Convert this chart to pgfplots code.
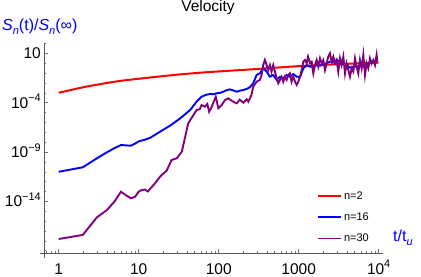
\documentclass[border=0pt]{standalone}
\usepackage{fontspec}
\setmainfont{Liberation Sans}
\usepackage{pgfplots}
\pgfplotsset{compat=1.18}
\newcommand{\sups}[1]{\raisebox{0.42em}{\fontsize{11bp}{13bp}\selectfont #1}}
\newcommand{\subs}[1]{\raisebox{-0.25em}{\fontsize{11bp}{13bp}\selectfont #1}}
\definecolor{mpurple}{rgb}{0.5,0,0.5}
\begin{document}
\begin{tikzpicture}
\begin{axis}[
  at={(0,0)}, anchor=south west,
  scale only axis, width=339bp, height=210bp,
  xmode=log, ymode=log,
  xmin=0.655, xmax=11320,
  ymin=5.9e-20, ymax=110,
  axis lines=left,
  axis line style={-, black!65, line width=0.6bp},
  x axis line style={shorten <=-4bp},
  y axis line style={shorten <=-5bp},
  tick align=inside,
  major tick length=4bp, minor tick length=2.5bp,
  tick style={black!55, line width=0.5bp},
  xtick={1,10,100,1000,10000},
  xticklabels={1,10,100,1000,10\sups{4}},
  minor xtick={0.7,0.8,0.9,2,3,4,5,6,7,8,9,20,30,40,50,60,70,80,90,200,300,400,500,600,700,800,900,2000,3000,4000,5000,6000,7000,8000,9000},
  ytick={1e-14,1e-9,1e-4,10},
  yticklabels={10\sups{−14},10\sups{−9},10\sups{−4},10},
  minor ytick={1e-19,1e-18,1e-17,1e-16,1e-15,1e-13,1e-12,1e-11,1e-10,1e-8,1e-7,1e-6,1e-5,1e-3,1e-2,1e-1,1,100},
  every tick label/.append style={font=\fontsize{15.5bp}{18bp}\selectfont},
  xticklabel style={anchor=north, text height=11bp, text depth=0pt, inner sep=0pt, yshift=-10bp},
  yticklabel style={anchor=east, text height=11bp, text depth=0pt, inner sep=0pt, xshift=-3bp},
  legend style={at={(rel axis cs:0.805,0.303)}, anchor=north west, draw=none, fill=none,
    font=\fontsize{11bp}{13bp}\selectfont, row sep=8bp, inner sep=0pt},
  legend cell align=left,
  legend image code/.code={\draw[#1] (0bp,0bp) -- (23bp,0bp);},
  clip=false,
]
\addplot[red, line width=2bp, smooth] coordinates {
(1,1e-3) (2,3.55e-3) (3.16,7.08e-3) (5.6,1.51e-2) (10,2.63e-2) (17.8,4.37e-2)
(31.6,7.08e-2) (56,1.05e-1) (100,1.45e-1) (316,2.63e-1) (1000,0.5) (3162,0.79) (10000,1.12)
};
\addlegendentry{n=2}
\addplot[blue, line width=1.9bp] coordinates {
(1,1e-11) (2,2.82e-11) (3,2.29e-10) (4,9.33e-10) (5,2.51e-9) (6,5.13e-9) (7,4.68e-9)
(8,4.37e-9) (9,7.08e-9) (10,1.2e-8) (12,1.78e-8) (14,2.82e-8) (18.5,1.15e-7) (24.7,4.68e-7)
(33,2.57e-6) (44,1.82e-5) (53,1.26e-4) (61,3.98e-4) (70,6.31e-4) (78,7.59e-4) (86,7.08e-4)
(94,8.91e-4) (105,1e-3) (114,1.29e-3) (125,1.78e-3) (138,2.24e-3) (150,1.78e-3) (168,1.29e-3)
(183,1.62e-3) (203,1.91e-3) (225,2.51e-3) (245,3.63e-3) (270,9.12e-3) (298,6.31e-2)
(327,9.33e-2) (360,0.302) (398,0.138) (437,4.27e-2) (481,6.31e-2) (530,2.0e-2) (583,4.27e-2)
(642,2.95e-2) (707,6.31e-2) (778,4.27e-2) (856,7.94e-2) (944,4.27e-2) (1039,3.98e-2)
(1143,0.302) (1259,0.646) (1386,0.437) (1522,0.437) (1679,0.646) (1846,0.55) (2030,0.776)
(2239,0.977) (2461,1.41) (2707,1.23) (2985,2.09) (3281,1.41) (3610,0.977) (3981,0.646)
(4375,0.347) (4814,0.437) (5309,0.437) (5834,0.55) (6420,0.437) (7079,0.646) (7780,0.977)
(8560,1.41) (9441,1.66)
};
\addlegendentry{n=16}
\addplot[mpurple, line width=1.9bp] coordinates {
(1,1.55e-18) (2,3.98e-18) (3,2.4e-16) (4,1.32e-15) (5,1e-14) (6,9.55e-14) (7,3.98e-14)
(8,2.04e-14) (9,2.95e-14) (10,9.55e-14) (11,1.41e-13) (12,1.58e-13) (13,1e-13) (14,2.0e-13)
(16,6.76e-13) (18.5,3.16e-12) (19.4,4.68e-12) (22.3,1.26e-11) (25.8,1.55e-10) (29.9,2.29e-10)
(34.6,1.07e-9) (38,3.16e-8) (41.6,8.13e-7) (48.4,5.62e-6) (53,1.82e-5) (58,2.14e-5)
(61,5.75e-5) (67,3.89e-5) (72,7.24e-5) (76,1.2e-5) (82,3.89e-5) (85,8.51e-5) (92,3.98e-4)
(99,2.69e-5) (109,5.75e-5) (120,1.86e-4) (132,2.75e-4) (145,1.58e-4) (160,1e-4) (168,8.51e-5)
(183,2.0e-4) (203,1e-4) (224,2.19e-4) (235,1.26e-4) (257,6.03e-4) (270,4.17e-3) (298,1.32e-2)
(327,2.0e-2) (344,6.31e-2) (360,0.646) (378,2.09) (398,0.646) (416,0.204) (437,0.646)
(457,0.138) (481,0.646) (530,2.95e-2) (555,9.12e-3) (583,2.0e-2) (612,4.27e-2) (642,1.32e-2)
(673,4.27e-2) (707,2.0e-2) (741,6.31e-2) (778,9.33e-2) (815,1.32e-2) (856,4.27e-2)
(900,1.32e-2) (944,6.17e-3) (990,1.32e-2) (1039,4.27e-2) (1090,0.204) (1143,1.41) (1200,2.09)
(1259,0.977) (1310,4.57) (1386,1) (1452,1.41) (1524,9.33e-2) (1599,0.646) (1675,2.09)
(1758,0.447) (1845,3.09) (1936,0.955) (2032,2.09) (2132,0.204) (2234,0.955) (2344,4.57)
(2460,10) (2582,1.41) (2710,4.57) (2844,0.955) (2979,2.09) (3126,0.138) (3281,3.09)
(3443,0.646) (3614,4.57) (3793,9.33e-2) (3972,0.955) (4169,0.204) (4375,4.27e-2) (4592,0.302)
(4819,0.138) (5058,3.09) (5297,0.447) (5559,9.33e-2) (5834,2.09) (6124,0.302) (6427,6.76)
(6745,6.31e-2) (7063,0.955) (7413,0.302) (7780,3.09) (8166,0.955) (8570,2.09) (8995,0.646)
(9419,6.76) (9616,1.41)
};
\addlegendentry{n=30}
\node[anchor=base, inner sep=0pt, font=\fontsize{15.5bp}{18bp}\selectfont] at (rel axis cs:0.4838,1.149) {Velocity};
\node[anchor=base west, inner sep=0pt, text=blue, font=\fontsize{16bp}{19bp}\selectfont] at (rel axis cs:-0.1239,1.0595) {\textit{S}\subs{\textit{n}}(t)/\textit{S}\subs{\textit{n}}(∞)};
\node[anchor=base west, inner sep=0pt, text=blue, font=\fontsize{16bp}{19bp}\selectfont] at (rel axis cs:1.0295,0.057) {t/t\subs{\textit{u}}};
\end{axis}
\pgfresetboundingbox
\path (-44bp,-24bp) rectangle (377bp,253bp);
\end{tikzpicture}
\end{document}
